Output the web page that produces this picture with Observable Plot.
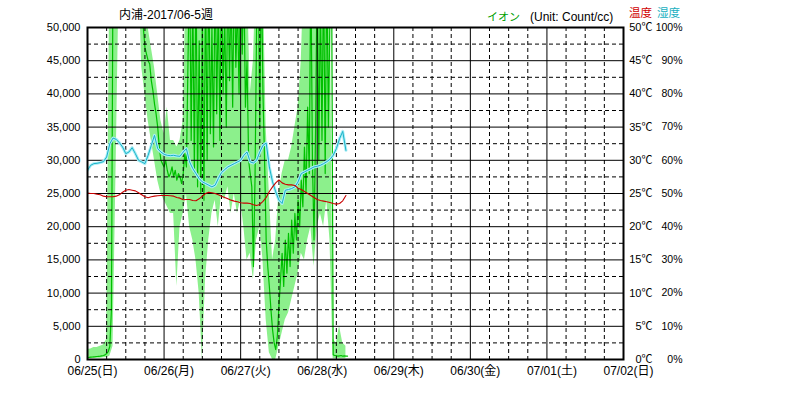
<!DOCTYPE html>
<html><head><meta charset="utf-8">
<script src="https://cdn.jsdelivr.net/npm/d3@7"></script>
<script src="https://cdn.jsdelivr.net/npm/@observablehq/plot@0.6"></script>
<style>
body{margin:0;background:#fff;}
#wrap{position:relative;width:786px;height:399px;font-family:"Liberation Sans","Noto Sans CJK JP",sans-serif;}
#wrap svg{position:absolute;left:0;top:0;}
.lbl{position:absolute;font-size:12px;white-space:nowrap;line-height:14px;z-index:2;}
</style></head><body>
<div id="wrap">
<div class="lbl" style="left:119px;top:8px">内浦-2017/06-5週</div>
<div class="lbl" style="left:487px;top:10px;color:#00a000;font-size:11px">イオン</div>
<div class="lbl" style="left:530px;top:10px">(Unit: Count/cc)</div>
<div class="lbl" style="left:629px;top:6px;color:#d00000;font-size:11.5px">温度</div>
<div class="lbl" style="left:657px;top:6px;color:#20b0c0;font-size:11.5px">湿度</div>
</div>
<script>
const dayLabels = ["06/25(日)","06/26(月)","06/27(火)","06/28(水)","06/29(木)","06/30(金)","07/01(土)","07/02(日)"];
const yTicks = [0,5000,10000,15000,20000,25000,30000,35000,40000,45000,50000];
const yHalfTicks = [2500,7500,12500,17500,22500,27500,32500,37500,42500,47500];

// ion average, every 30 minutes from 06/25 00:00 (values above 50,000 are off the chart)
const ionAvg = [
 300,320, 350,380, 400,420, 450,480, 500,550, 600,700, 900,1200, 2000,7500,
 60000,60000, 60000,60000, 60000,60000, 60000,60000, 60000,60000, 60000,60000, 60000,60000, 60000,60000, 60000,60000,
 56000,50000, 47000,46000, 45000,44500, 42000,40500, 38500,37000, 35000,32000, 30000,29500,
 29000,30000, 28500,27500, 28000,29000, 27500,28500, 27000,28000, 27500,26500, 28000,31000, 29000,45000,
 60000,33000, 55000,28000, 60000,26000, 48000,25000, 52000,24000, 58000,30000, 60000,34000, 50000,32000,
 60000,37000, 55000,33000, 60000,40000, 52000,35000, 60000,42000, 56000,38000, 60000,44000, 54000,40000,
 60000,46000, 58000,38000, 45000,30000, 28000,26000, 14000,27000, 50000,60000, 35000,60000, 40000,30000,
 18000,14000, 11000,7500, 4500,2500, 1500,3500, 8000,12000, 16000,11000, 18000,13000, 19000,14000,
 21000,16000, 22000,18000, 24000,20000, 27000,23000, 32000,25000, 38000,28000, 60000,30000, 18000,35000,
 60000,30000, 55000,33000, 60000,28000, 60000,35000, 52000,60000, 700,600, 600,500, 550,600,
 500,550, 500,500
];
// ion hourly low / high
const ionLo = [
 100,100,150,200,200,250,300,500,2000,30000,
 60000,60000,60000,60000,60000,60000,60000,44000,40000,36000,
 33000,30000,27000,25000,24000,23000,22000,22000,11000,20000,
 22000,25000,20000,18000,15000,10000,0,12000,18000,22000,
 24000,20000,25000,24000,26000,22000,25000,22000,24000,20000,
 15000,16000,12000,18000,20000,15000,6000,1000,0,0,
 2000,4000,6000,7000,9000,11000,13000,16000,15000,18000,
 20000,14000,20000,22000,20000,24000,18000,100,100,100,
 100,100
];
const ionHi = [
 1500,1600,1800,1800,2000,2200,3000,60000,60000,60000,
 60000,60000,60000,60000,60000,60000,60000,60000,52000,50000,
 47000,44000,40000,36000,34000,38000,33000,33000,32000,33000,
 36000,60000,60000,60000,60000,60000,60000,60000,60000,60000,
 60000,60000,60000,60000,60000,60000,60000,60000,60000,60000,
 60000,40000,45000,60000,60000,60000,35000,25000,15000,18000,
 25000,28000,30000,30000,32000,35000,38000,45000,60000,60000,
 60000,60000,60000,60000,60000,60000,60000,3000,2500,5000,
 2500,2000
];
// temperature (°C), hourly
const temperature = [
 25.05,25.0,25.0,24.9,24.8,24.6,24.5,24.5,24.5,24.6,
 24.8,25.2,25.5,25.6,25.5,25.4,25.1,24.8,24.5,24.35,
 24.5,24.6,24.65,24.7,24.7,24.7,24.65,24.6,24.4,24.3,
 24.05,24.1,24.1,23.95,23.9,24.2,24.6,25.0,25.2,25.1,
 25.0,24.8,24.6,24.4,24.2,24.0,23.85,23.75,23.6,23.55,
 23.55,23.5,23.3,23.2,23.35,23.8,24.4,25.3,26.0,26.6,
 27.05,26.6,26.4,26.3,26.3,26.2,25.8,25.6,25.3,25.0,
 24.7,24.4,24.1,23.95,23.85,23.75,23.65,23.5,23.4,23.5,
 23.9,24.7
];
// humidity (%), hourly
const humidity = [
 57.0,58.5,59.0,59.1,59.3,59.6,61.0,65.0,66.7,66.3,
 65.3,64.0,62.0,62.5,63.8,62.0,60.0,59.5,59.0,61.5,
 64.5,67.5,63.5,62.5,61.8,61.5,61.4,61.5,61.3,61.2,
 62.5,63.5,59.5,57.5,56.0,54.5,53.5,53.0,52.5,52.0,
 52.5,54.5,56.3,57.2,58.0,58.5,59.0,59.5,60.0,61.5,
 62.5,59.5,59.2,60.0,62.5,64.5,65.2,58.0,53.5,50.5,
 48.0,47.0,51.0,51.2,51.5,52.0,53.5,56.0,56.5,57.0,
 57.5,58.0,58.2,58.5,59.0,59.6,60.3,61.5,63.5,66.5,
 68.7,63.0
];

const start = Date.UTC(2017, 5, 25);
const HOUR = 3600e3;
const dayTimes = dayLabels.map((_, i) => new Date(start + i * 24 * HOUR));
const quarterTimes = [];
for (let d = 0; d < 7; d++) for (const q of [6, 12, 18]) quarterTimes.push(new Date(start + (d * 24 + q) * HOUR));

const avgData = ionAvg.map((v, i) => ({t: new Date(start + i * 0.5 * HOUR), v}));
const bandData = ionLo.map((lo, i) => ({t: new Date(start + i * HOUR), lo, hi: ionHi[i]}));
const thData = temperature.map((tc, i) => ({t: new Date(start + i * HOUR), tc, h: humidity[i]}));

const fmt = d3.format(",");
const dash = "4,3";

const chart = Plot.plot({
  width: 786, height: 399,
  marginLeft: 87, marginRight: 163, marginTop: 27, marginBottom: 40,
  x: {type: "utc", domain: [dayTimes[0], dayTimes[7]], axis: null},
  y: {domain: [0, 50000], axis: null},
  style: {fontSize: "11px", fontFamily: "'Liberation Sans','Noto Sans CJK JP',sans-serif", background: "white", color: "black", overflow: "visible"},
  marks: [
    Plot.areaY(bandData, {x: "t", y1: "lo", y2: "hi", fill: "#8cf08c", clip: true}),
    Plot.lineY(avgData, {x: "t", y: "v", stroke: "#00c000", strokeWidth: 1.2, clip: true}),
    Plot.ruleY(yHalfTicks, {stroke: "black", strokeDasharray: dash, strokeWidth: 1}),
    Plot.ruleX(quarterTimes, {stroke: "black", strokeDasharray: dash, strokeWidth: 1}),
    Plot.ruleY(yTicks, {stroke: "black", strokeWidth: 1}),
    Plot.ruleX(dayTimes, {stroke: "black", strokeWidth: 1}),
    Plot.lineY(thData, {x: "t", y: d => d.h * 500, stroke: "#aaeef6", strokeWidth: 3, clip: true}),
    Plot.lineY(thData, {x: "t", y: d => d.h * 500, stroke: "#18b2c8", strokeWidth: 1, clip: true}),
    Plot.lineY(thData, {x: "t", y: d => d.tc * 1000, stroke: "#c80000", strokeWidth: 1.1, clip: true}),
    Plot.frame({stroke: "black", strokeWidth: 2}),
    Plot.text(yTicks, {y: d => d, frameAnchor: "left", textAnchor: "end", dx: -7, text: d => fmt(d), fill: "black"}),
    Plot.text(yTicks, {y: d => d, frameAnchor: "right", textAnchor: "end", dx: 29, text: d => (d / 1000) + "℃", fill: "black"}),
    Plot.text(yTicks, {y: d => d, frameAnchor: "right", textAnchor: "end", dx: 59, text: d => (d / 500) + "%", fill: "black", fontSize: 10.5}),
    Plot.text(dayTimes, {x: d => d, frameAnchor: "bottom", dy: 15, dx: 5, text: (d, i) => dayLabels[i], fill: "black", fontSize: 12})
  ]
});
document.getElementById("wrap").appendChild(chart);
</script>
</body></html>
